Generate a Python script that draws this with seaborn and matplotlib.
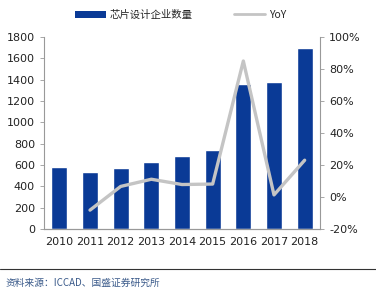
import numpy as np
import pandas as pd
import seaborn as sns
import matplotlib.pyplot as plt
from matplotlib.lines import Line2D
from matplotlib.patches import Patch
from matplotlib.ticker import PercentFormatter

years = ['2010', '2011', '2012', '2013', '2014', '2015', '2016', '2017', '2018']
companies = [582, 534, 569, 632, 681, 736, 1362, 1380, 1698]
yoy = [np.nan, -8.2, 6.6, 11.1, 7.8, 8.1, 85.0, 1.3, 23.0]

bar_color = '#0a3a96'
line_color = '#c4c4c4'
text_color = '#222222'

df = pd.DataFrame({'Year': years, 'Count': companies, 'YoY': yoy})
df['pos'] = np.arange(len(df))

sns.set_style('white')
plt.rcParams['font.family'] = ['Noto Sans CJK SC', 'DejaVu Sans']
plt.rcParams['axes.unicode_minus'] = False

fig = plt.figure(figsize=(3.76, 2.93), dpi=100)
ax = fig.add_axes([44 / 376, 1 - 229 / 293, 276 / 376, 192 / 293])

sns.barplot(data=df, x='Year', y='Count', color=bar_color, width=0.52,
            saturation=1, ax=ax)
ax.set_ylim(0, 1800)
ax.set_yticks(range(0, 1801, 200))
ax.set_xlim(-0.5, len(years) - 0.5)
ax.set_xlabel('')
ax.set_ylabel('')

ax2 = ax.twinx()
sns.lineplot(data=df, x='pos', y='YoY', color=line_color, linewidth=2.4, ax=ax2)
ax2.set_ylim(-20, 100)
ax2.set_yticks(range(-20, 101, 20))
ax2.yaxis.set_major_formatter(PercentFormatter(decimals=0))
ax2.set_xlim(-0.5, len(years) - 0.5)
ax2.set_xlabel('')
ax2.set_ylabel('')

for a in (ax, ax2):
    a.spines['top'].set_visible(False)
    for side in ('left', 'right', 'bottom'):
        a.spines[side].set_color('#999999')
        a.spines[side].set_linewidth(0.8)
    a.tick_params(labelsize=8, colors=text_color, length=3, width=0.6,
                  color='#999999')
    for lbl in a.get_xticklabels() + a.get_yticklabels():
        lbl.set_family('DejaVu Sans')
ax.tick_params(axis='x', length=0, pad=6)
ax.spines['right'].set_visible(False)
ax2.spines['left'].set_visible(False)

handles = [Patch(facecolor=bar_color, edgecolor='none'),
           Line2D([0], [0], color=line_color, linewidth=2)]
fig.legend(handles, ['芯片设计企业数量', 'YoY'], loc='center',
           bbox_to_anchor=(0.48, 1 - 15 / 293), ncol=2, frameon=False,
           fontsize=7.5, handlelength=3, columnspacing=4, handletextpad=0.3)

fig.add_artist(Line2D([0, 1], [1 - 269 / 293] * 2, color='#333333',
                      linewidth=0.8))
fig.text(6 / 376, 1 - 283 / 293, '资料来源：ICCAD、国盛证券研究所',
         fontsize=7, style='italic', color='#3a5a8a', va='center')

fig.savefig('out.png', dpi=100)
